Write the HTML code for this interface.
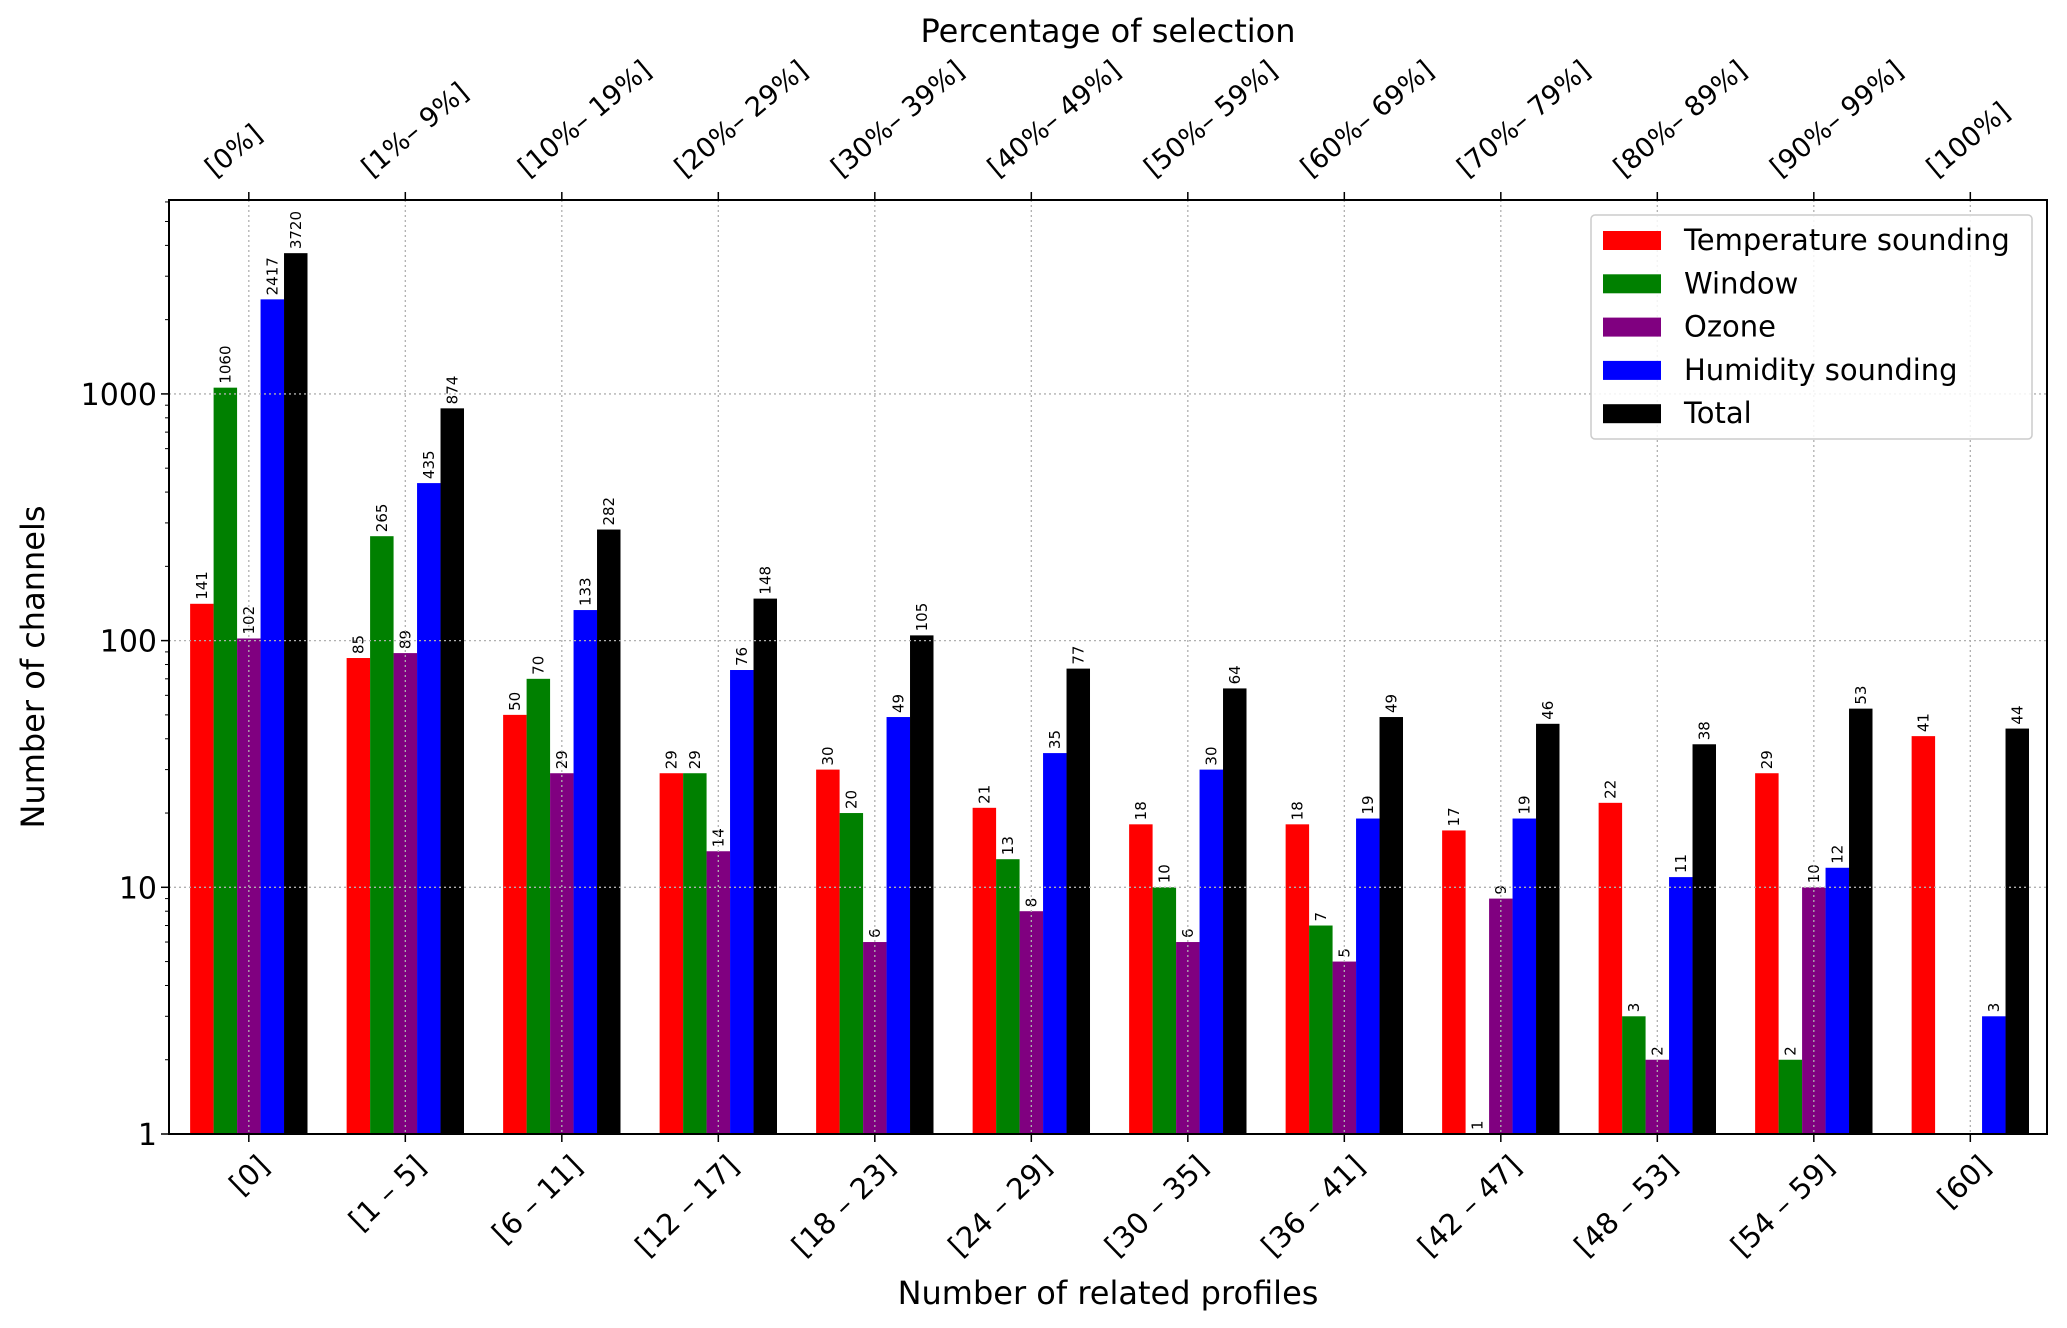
<!DOCTYPE html>
<html><head><meta charset="utf-8"><style>
body{margin:0;background:#fff}
svg{display:block;font-family:"DejaVu Sans","Liberation Sans",sans-serif}
</style></head><body>
<svg id="chart" width="2067" height="1328" viewBox="0 0 2067 1328" xmlns="http://www.w3.org/2000/svg"></svg>
<script>
const categories=["[0]","[1 – 5]","[6 – 11]","[12 – 17]","[18 – 23]","[24 – 29]","[30 – 35]","[36 – 41]","[42 – 47]","[48 – 53]","[54 – 59]","[60]"];
const topLabels=["[0%]","[1%– 9%]","[10%– 19%]","[20%– 29%]","[30%– 39%]","[40%– 49%]","[50%– 59%]","[60%– 69%]","[70%– 79%]","[80%– 89%]","[90%– 99%]","[100%]"];
const temperature=[141,85,50,29,30,21,18,18,17,22,29,41];
const windowCh=[1060,265,70,29,20,13,10,7,1,3,2,null];
const ozone=[102,89,29,14,6,8,6,5,9,2,10,null];
const humidity=[2417,435,133,76,49,35,30,19,19,11,12,3];
const total=[3720,874,282,148,105,77,64,49,46,38,53,44];
const seriesNames=["Temperature sounding","Window","Ozone","Humidity sounding","Total"];
const yTicks=[1,10,100,1000];

const svg=document.getElementById('chart');
const NS='http://www.w3.org/2000/svg';
function mk(tag,attrs,parent){const e=document.createElementNS(NS,tag);for(const k in attrs)e.setAttribute(k,attrs[k]);(parent||svg).appendChild(e);return e;}
const L=169,R=2047,T=200,B=1134;
const x0=-0.51,x1=11.49;
const yMin=0,yMax=Math.log10(6110);
function xs(i){return L+(i-x0)/(x1-x0)*(R-L);}
function ys(v){return B-(Math.log10(v)-yMin)/(yMax-yMin)*(B-T);}
const spacing=xs(1)-xs(0), bw=spacing*0.15;
const colors=["#ff0000","#008000","#800080","#0000ff","#000000"];
const series=[temperature,windowCh,ozone,humidity,total];
const keys=["temperature","window","ozone","humidity","total"];

series.forEach((s,si)=>{
  s.forEach((v,i)=>{
    if(v===null)return;
    const cx=xs(i)+(si-2)*bw;
    const top=ys(v);
    const r=mk('rect',{x:cx-bw/2,y:top,width:bw,height:B-top,fill:colors[si]});
    
    
    const t=mk('text',{x:0,y:0,'font-size':15,fill:'#000',transform:`translate(${cx+5},${top-4}) rotate(-90)`});
    t.textContent=v;
    
    
  });
});
const g=mk('g',{stroke:'#b0b0b0','stroke-width':1.3,'stroke-dasharray':'2,3'});


yTicks.forEach(v=>mk('line',{x1:L,x2:R,y1:ys(v),y2:ys(v)},g));
categories.forEach((c,i)=>mk('line',{x1:xs(i),x2:xs(i),y1:T,y2:B},g));
const sp=mk('rect',{x:L,y:T,width:R-L,height:B-T,fill:'none',stroke:'#000','stroke-width':2});


yTicks.forEach(v=>{
  mk('line',{x1:L-8,x2:L,y1:ys(v),y2:ys(v),stroke:'#000','stroke-width':1.5});
  const t=mk('text',{x:L-12,y:ys(v)+11,'font-size':30,'text-anchor':'end'});
  t.textContent=v;
  
  
});
for(let d=0;d<4;d++)for(let m=2;m<=9;m++){const v=m*Math.pow(10,d);if(Math.log10(v)>yMax)break;mk('line',{x1:L-4,x2:L,y1:ys(v),y2:ys(v),stroke:'#000','stroke-width':1});}
categories.forEach((c,i)=>{
  const x=xs(i);
  mk('line',{x1:x,x2:x,y1:B,y2:B+8,stroke:'#000','stroke-width':1.5});
  mk('line',{x1:x,x2:x,y1:T-8,y2:T,stroke:'#000','stroke-width':1.5});
  const t=mk('text',{x:0,y:0,'font-size':29,'text-anchor':'end',transform:`translate(${x+22},${B+34}) rotate(-44)`});
  t.textContent=c;
  
  
  const t2=mk('text',{x:0,y:0,'font-size':27,'text-anchor':'start',transform:`translate(${x-34},${T-22}) rotate(-40)`});
  t2.textContent=topLabels[i];
  
  
});
let t=mk('text',{x:(L+R)/2,y:42,'font-size':32,'text-anchor':'middle'});t.textContent='Percentage of selection';

t=mk('text',{x:(L+R)/2,y:1304,'font-size':32,'text-anchor':'middle'});t.textContent='Number of related profiles';

t=mk('text',{x:0,y:0,'font-size':32,'text-anchor':'middle',transform:`translate(44,${(T+B)/2}) rotate(-90)`});t.textContent='Number of channels';

const lg=mk('g',{});


mk('rect',{x:1591,y:215,width:441,height:224,rx:4,fill:'#fff','fill-opacity':0.85,stroke:'#ccc','stroke-width':1.5},lg);
seriesNames.forEach((n,i)=>{
  const y=240+i*43.3;
  mk('rect',{x:1603,y:y-9,width:58,height:19,fill:colors[i]},lg);
  const tt=mk('text',{x:1684,y:y+10,'font-size':29},lg);
  tt.textContent=n;
  
  
});
</script>
</body></html>
